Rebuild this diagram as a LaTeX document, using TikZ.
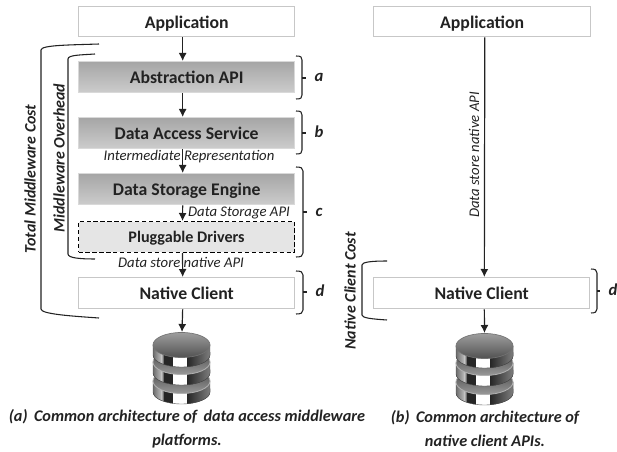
\documentclass[tikz,border=0pt]{standalone}
\usepackage{fontspec}
\setmainfont{Carlito}
\usetikzlibrary{arrows.meta,calc}
\definecolor{ink}{HTML}{222222}
\tikzset{
  x=0.75pt,y=-0.75pt,
  every node/.style={text=ink,inner sep=0pt},
  whitebox/.style={draw=black!22,line width=1pt,fill=white,font=\bfseries\fontsize{13.3}{15}\selectfont,anchor=north west,text height=11pt,text depth=1pt},
  graybox/.style={draw=black!15,line width=1pt,top color=black!35,bottom color=black!20,font=\bfseries\fontsize{13.3}{15}\selectfont,anchor=north west,text height=11pt,text depth=1pt},
  dashbox/.style={draw=black,line width=0.8pt,dash pattern=on 3.2pt off 2pt,fill=black!10,font=\bfseries\fontsize{12.1}{14}\selectfont,anchor=north west,text height=10.5pt,text depth=1.5pt},
  flow/.style={draw=ink,line width=0.9pt,-{Latex[length=6pt,width=6pt]}},
  brace/.style={draw=ink,line width=0.8pt},
  apilabel/.style={font=\itshape\fontsize{11.05}{13}\selectfont},
  sidelabel/.style={font=\bfseries\itshape\fontsize{12}{14}\selectfont,rotate=90},
  letterlabel/.style={font=\bfseries\itshape\fontsize{12.5}{15}\selectfont},
  caption/.style={font=\bfseries\itshape\fontsize{12.2}{18}\selectfont,align=center},
  dbtop/.style={top color=black!38,bottom color=black!68,draw=black!55,line width=0.5pt},
  dbring/.style={top color=black!72,bottom color=black!40,draw=black!30,line width=0.6pt},
}
% one disk: #1 x centre, #2 y of the top ellipse centre, #3 rim height, #4 style of the top
\newcommand{\dbdisk}[4]{%
  \begin{scope}
  \clip (#1-28.5,#2) -- (#1-28.5,#2+#3) arc[start angle=180,end angle=360,x radius=21.4pt,y radius=9pt] -- (#1+28.5,#2) -- cycle;
  \fill[left color=black!60,right color=black!25] (#1-29,#2) rectangle (#1-20,#2+#3+14);
  \fill[left color=black!25,right color=black!85] (#1-20,#2) rectangle (#1-17,#2+#3+14);
  \fill[black!85] (#1-17.1,#2) rectangle (#1-9,#2+#3+14);
  \fill[white] (#1-9,#2) rectangle (#1+5.5,#2+#3+14);
  \fill[left color=black!85,right color=black!50] (#1+5.5,#2) rectangle (#1+29,#2+#3+14);
  \end{scope}
  \draw[black!70,line width=0.3pt] (#1-28.5,#2) -- (#1-28.5,#2+#3) arc[start angle=180,end angle=360,x radius=21.4pt,y radius=9pt] -- (#1+28.5,#2);
  \path[#4] (#1,#2) ellipse[x radius=21.4pt,y radius=9.4pt];
}
\newcommand{\dbstack}[2]{%
  \dbdisk{#1}{#2+36}{11}{dbring}
  \dbdisk{#1}{#2+17}{11}{dbring}
  \dbdisk{#1}{#2}{10}{dbtop}
}
\begin{document}
\begin{tikzpicture}
\useasboundingbox (0,0) rectangle (617,452);
% left column
\node[whitebox,minimum width=162pt,minimum height=22.5pt] (appa) at (78,6) {Application};
\node[graybox,minimum width=162pt,minimum height=23.2pt] (abs) at (78,61) {Abstraction API};
\node[graybox,minimum width=162pt,minimum height=23.2pt] (das) at (78,117) {Data Access Service};
\node[graybox,minimum width=162pt,minimum height=23.2pt] (dse) at (78,173) {Data Storage Engine};
\node[dashbox,minimum width=162pt,minimum height=23.2pt] (plug) at (78,221) {Pluggable Drivers};
\node[whitebox,minimum width=162pt,minimum height=23.2pt] (nca) at (78,277) {Native Client};
\coordinate (dba) at (182,332);
% right column
\node[whitebox,minimum width=162.7pt,minimum height=22.5pt] (appb) at (373,6) {Application};
\node[whitebox,minimum width=162pt,minimum height=23.2pt] (ncb) at (373,277) {Native Client};
\coordinate (dbb) at (484.5,333);
% databases
\dbstack{181.5}{345}
\dbstack{484.5}{346}
% flows
\draw[flow] ([xshift=-3pt]appa.south) -- ([xshift=-3pt]abs.north);
\draw[flow] ([xshift=-3pt]abs.south) -- ([xshift=-3pt]das.north);
\draw[flow] ([xshift=-3pt]das.south) -- ([xshift=-3pt]dse.north);
\draw[flow] ([xshift=-3pt]dse.south) -- ([xshift=-3pt]plug.north);
\draw[flow] ([xshift=-3pt]plug.south) -- ([xshift=-3pt]nca.north);
\draw[flow] ([xshift=-3pt]nca.south) -- (dba);
\draw[flow] ([xshift=2pt]appb.south) -- ([xshift=2pt]ncb.north);
\draw[flow] ([xshift=2pt]ncb.south) -- (dbb);
% labels on flows
\node[apilabel] (l1) at (189,157) {Intermediate Representation};
\node[apilabel] (l2) at (239,212.5) {Data Storage API};
\node[apilabel] (l3) at (181,262.5) {Data store native API};
\node[apilabel,rotate=90] (l4) at (474,155) {Data store native API};
% right braces
\draw[brace] (296,56) .. controls (301,56) and (302,57) .. (302,60) -- (302,95) .. controls (302,98) and (301,99) .. (296,99);
\draw[brace] (302,78) -- (306,78);
\draw[brace] (296,111) .. controls (301,111) and (302,112) .. (302,115) -- (302,150) .. controls (302,153) and (301,154) .. (296,154);
\draw[brace] (302,133) -- (306,133);
\draw[brace] (296,167) .. controls (301,167) and (303,168) .. (303,171) -- (303,253) .. controls (303,256) and (301,257) .. (296,257);
\draw[brace] (303,212) -- (307,212);
\draw[brace] (296,271) .. controls (301,271) and (303,272) .. (303,275) -- (303,310) .. controls (303,313) and (301,314) .. (296,314);
\draw[brace] (303,292) -- (307,292);
\draw[brace] (591,269) .. controls (595,269) and (597,270) .. (597,273) -- (597,309) .. controls (597,312) and (595,313) .. (591,313);
\draw[brace] (597,291) -- (600,291);
\node[letterlabel] (ka) at (319,77) {a};
\node[letterlabel] (kb) at (319,132) {b};
\node[letterlabel] (kc) at (319,212) {c};
\node[letterlabel] (kd) at (320,291) {d};
\node[letterlabel] (ke) at (613,290) {d};
% left brackets
\draw[brace] (99,44) .. controls (70,45) and (41,45) .. (41,50) -- (41,309) .. controls (41,314) and (70,316) .. (99,318);
\draw[brace] (95,54) .. controls (80,55) and (68,55) .. (68,59) -- (68,254) .. controls (68,258) and (80,259) .. (95,259);
\draw[brace] (387,261) .. controls (372,261) and (362,262) .. (362,265) -- (362,315) .. controls (362,318) and (372,319) .. (387,320);
\node[sidelabel] (s1) at (30,179) {Total Middleware Cost};
\node[sidelabel] (s2) at (59,158) {Middleware Overhead};
\node[sidelabel] (s3) at (350,291) {Native Client Cost};
% captions
\node[caption] (c1) at (187,429) {(a)\, Common architecture of\, data access middleware\\platforms.};
\node[caption] (c2) at (485,429) {(b)\, Common architecture of\\native client APIs.};
\end{tikzpicture}
\end{document}
